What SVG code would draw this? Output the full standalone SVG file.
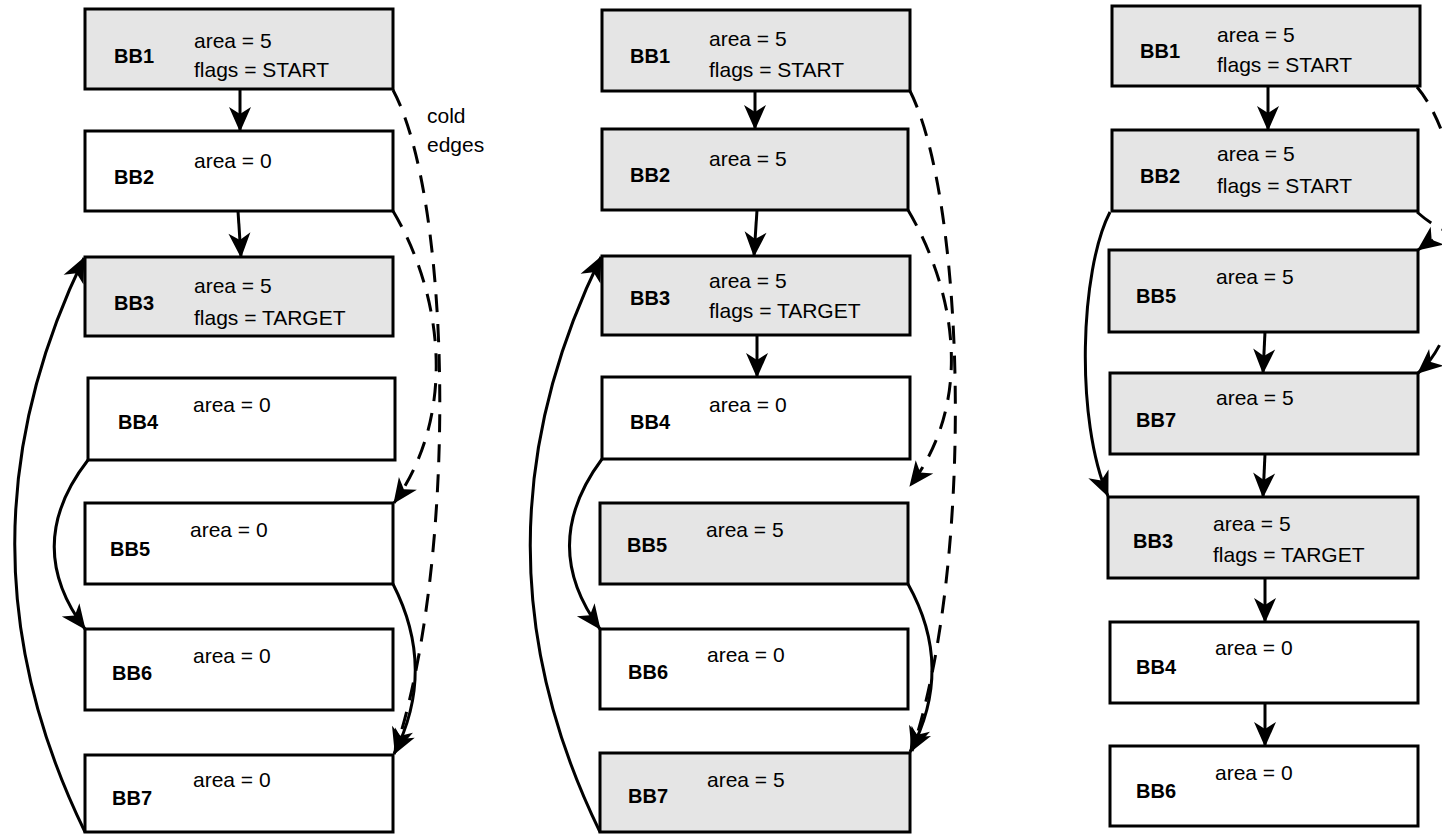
<svg xmlns="http://www.w3.org/2000/svg" width="1442" height="835" viewBox="0 0 1442 835">
<style>
.box{stroke:#000;stroke-width:3}
.g{fill:#e5e5e5}
.w{fill:#fff}
.lbl{font-family:"Liberation Sans",Arial,sans-serif;font-weight:bold;font-size:20px;fill:#000}
.fld{font-family:"Liberation Sans",Arial,sans-serif;font-size:21px;fill:#000}
.e{fill:none;stroke:#000;stroke-width:3;marker-end:url(#ah)}
.d{fill:none;stroke:#000;stroke-width:3;stroke-dasharray:18 12;marker-end:url(#ah)}
</style>
<defs>
<marker id="ah" viewBox="-28 -13 30 26" refX="0" refY="0" markerWidth="30" markerHeight="26" markerUnits="userSpaceOnUse" orient="auto">
<path d="M1,0 L-24,-11 L-17,0 L-24,11 z" fill="#000"/>
</marker>
</defs>
<rect width="1442" height="835" fill="#fff"/>

<!-- Column 1 -->
<g id="c1-bb1"><rect class="box g" x="85" y="9" width="308" height="80"/><text class="lbl" x="114" y="63">BB1</text><text class="fld" x="194" y="48">area = 5</text><text class="fld" x="194" y="77">flags = START</text></g>
<g id="c1-bb2"><rect class="box w" x="85" y="131" width="308" height="80"/><text class="lbl" x="114" y="184">BB2</text><text class="fld" x="194" y="168">area = 0</text></g>
<g id="c1-bb3"><rect class="box g" x="85" y="257" width="308" height="79"/><text class="lbl" x="114" y="310">BB3</text><text class="fld" x="194" y="293">area = 5</text><text class="fld" x="194" y="325">flags = TARGET</text></g>
<g id="c1-bb4"><rect class="box w" x="88" y="378" width="307" height="82"/><text class="lbl" x="118" y="429">BB4</text><text class="fld" x="193" y="412">area = 0</text></g>
<g id="c1-bb5"><rect class="box w" x="85" y="503" width="308" height="81"/><text class="lbl" x="110" y="556">BB5</text><text class="fld" x="190" y="537">area = 0</text></g>
<g id="c1-bb6"><rect class="box w" x="85" y="629" width="308" height="81"/><text class="lbl" x="112" y="680">BB6</text><text class="fld" x="193" y="663">area = 0</text></g>
<g id="c1-bb7"><rect class="box w" x="85" y="755" width="308" height="77"/><text class="lbl" x="112" y="805">BB7</text><text class="fld" x="193" y="787">area = 0</text></g>
<g id="c1-label"><text class="fld" x="427" y="123">cold</text><text class="fld" x="427" y="152">edges</text></g>

<!-- Column 2 -->
<g id="c2-bb1"><rect class="box g" x="602" y="10" width="308" height="81"/><text class="lbl" x="630" y="63">BB1</text><text class="fld" x="709" y="46">area = 5</text><text class="fld" x="709" y="77">flags = START</text></g>
<g id="c2-bb2"><rect class="box g" x="602" y="129" width="306" height="81"/><text class="lbl" x="630" y="182">BB2</text><text class="fld" x="709" y="166">area = 5</text></g>
<g id="c2-bb3"><rect class="box g" x="602" y="256" width="308" height="79"/><text class="lbl" x="630" y="305">BB3</text><text class="fld" x="709" y="288">area = 5</text><text class="fld" x="709" y="318">flags = TARGET</text></g>
<g id="c2-bb4"><rect class="box w" x="602" y="377" width="308" height="82"/><text class="lbl" x="630" y="429">BB4</text><text class="fld" x="709" y="412">area = 0</text></g>
<g id="c2-bb5"><rect class="box g" x="600" y="503" width="308" height="81"/><text class="lbl" x="627" y="552">BB5</text><text class="fld" x="706" y="537">area = 5</text></g>
<g id="c2-bb6"><rect class="box w" x="600" y="629" width="308" height="80"/><text class="lbl" x="628" y="679">BB6</text><text class="fld" x="707" y="662">area = 0</text></g>
<g id="c2-bb7"><rect class="box g" x="600" y="753" width="310" height="79"/><text class="lbl" x="628" y="803">BB7</text><text class="fld" x="707" y="787">area = 5</text></g>

<!-- Column 3 -->
<g id="c3-bb1"><rect class="box g" x="1112" y="6" width="308" height="80"/><text class="lbl" x="1140" y="58">BB1</text><text class="fld" x="1217" y="42">area = 5</text><text class="fld" x="1217" y="72">flags = START</text></g>
<g id="c3-bb2"><rect class="box g" x="1112" y="130" width="306" height="81"/><text class="lbl" x="1140" y="183">BB2</text><text class="fld" x="1217" y="161">area = 5</text><text class="fld" x="1217" y="193">flags = START</text></g>
<g id="c3-bb5"><rect class="box g" x="1109" y="250" width="309" height="82"/><text class="lbl" x="1136" y="303">BB5</text><text class="fld" x="1216" y="284">area = 5</text></g>
<g id="c3-bb7"><rect class="box g" x="1110" y="373" width="308" height="81"/><text class="lbl" x="1136" y="427">BB7</text><text class="fld" x="1216" y="405">area = 5</text></g>
<g id="c3-bb3"><rect class="box g" x="1108" y="497" width="310" height="81"/><text class="lbl" x="1133" y="548">BB3</text><text class="fld" x="1213" y="531">area = 5</text><text class="fld" x="1213" y="562">flags = TARGET</text></g>
<g id="c3-bb4"><rect class="box w" x="1110" y="622" width="308" height="81"/><text class="lbl" x="1136" y="674">BB4</text><text class="fld" x="1215" y="655">area = 0</text></g>
<g id="c3-bb6"><rect class="box w" x="1110" y="746" width="308" height="80"/><text class="lbl" x="1136" y="798">BB6</text><text class="fld" x="1215" y="780">area = 0</text></g>

<g id="connectors">
<!-- column 1 -->
<path class="e" d="M240,89 L240,131"/>
<path class="e" d="M238,211 L241,257"/>
<path class="e" d="M88,460 Q22,545 85,629"/>
<path class="e" d="M85,832 Q-55,545 84,258"/>
<path class="e" d="M393,584 Q437,670 394,754"/>
<path class="d" d="M393,211 C440,290 460,410 394,503"/>
<path class="d" d="M393,90 C452,200 458,560 395,752"/>
<!-- column 2 -->
<path class="e" d="M755,91 L755,129"/>
<path class="e" d="M757,210 L754,256"/>
<path class="e" d="M757,335 L757,377"/>
<path class="e" d="M602,459 Q538,545 600,629"/>
<path class="e" d="M600,832 Q460,545 601,257"/>
<path class="e" d="M908,584 Q955,668 910,752"/>
<path class="d" d="M908,210 C955,290 975,400 910,486"/>
<path class="d" d="M910,91 C965,200 975,560 912,751"/>
<!-- column 3 -->
<path class="e" d="M1268,86 L1268,130"/>
<path class="e" d="M1265,332 L1263,373"/>
<path class="e" d="M1265,454 L1263,497"/>
<path class="e" d="M1265,578 L1265,622"/>
<path class="e" d="M1265,703 L1265,746"/>
<path class="e" d="M1110,212 C1080,270 1075,420 1108,496"/>
<path class="d" d="M1417,212 C1460,250 1465,215 1418,250"/>
<path class="d" d="M1417,87 C1470,150 1480,320 1418,373"/>
</g>
</svg>
